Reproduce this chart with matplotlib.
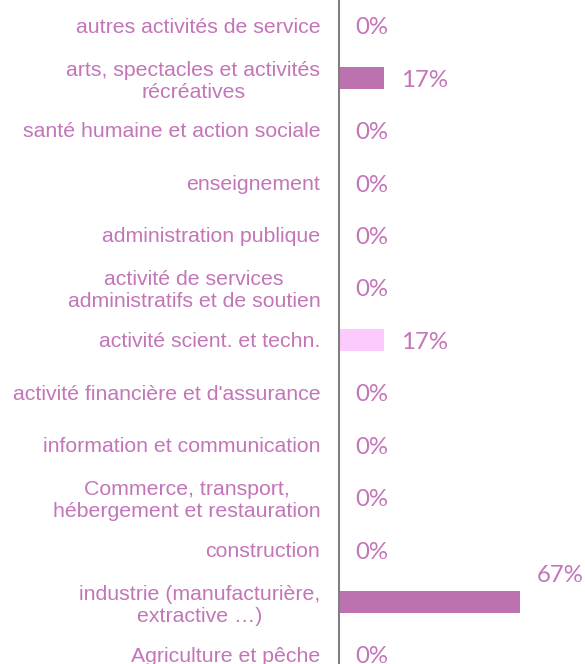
import matplotlib
matplotlib.use("Agg")
import matplotlib.pyplot as plt

categories = [
    "autres activités de service",
    "arts, spectacles et activités\nrécréatives",
    "santé humaine et action sociale",
    "enseignement",
    "administration publique",
    "activité de services\nadministratifs et de soutien",
    "activité scient. et techn.",
    "activité financière et d'assurance",
    "information et communication",
    "Commerce, transport,\nhébergement et restauration",
    "construction",
    "industrie (manufacturière,\nextractive …)",
    "Agriculture et pêche",
]
values = [0.0, 0.1667, 0.0, 0.0, 0.0, 0.0, 0.1667, 0.0, 0.0, 0.0, 0.0, 0.6667, 0.0]
value_labels = ["0%", "17%", "0%", "0%", "0%", "0%", "17%", "0%", "0%", "0%", "0%", "67%", "0%"]

dark = "#bd72b0"
light = "#fdcafd"
bar_colors = [light if c.startswith("activité scient") else dark for c in categories]
text_color = "#c375b8"

fig = plt.figure(figsize=(5.85, 6.64), dpi=100)
ax = fig.add_axes([339 / 585, 0, 1 - 339 / 585, 1])

n = len(categories)
ypos = [n - 1 - i for i in range(n)]
ax.barh(ypos, values, height=0.42, color=bar_colors)

ax.set_xlim(0, (585 - 339) / 271)
ax.set_ylim(-0.19, 12.48)
ax.set_yticks(ypos)
ax.set_yticklabels(categories, fontsize=15.3, color=text_color,
                   family=["Liberation Sans", "DejaVu Sans"], linespacing=1.2,
                   multialignment="center")
ax.tick_params(axis="y", length=0, pad=13.5)
ax.set_xticks([])
for s in ["top", "right", "bottom"]:
    ax.spines[s].set_visible(False)
ax.spines["left"].set_color("#808080")
ax.spines["left"].set_linewidth(1.5)

for y, v, lab in zip(ypos, values, value_labels):
    dy = 19 if v > 0.5 else -2
    ax.annotate(lab, xy=(v, y), xytext=(12, dy), textcoords="offset points",
                ha="left", va="center", fontsize=17.3, color=text_color,
                family=["Lato", "DejaVu Sans"], annotation_clip=False)

fig.savefig("out.png", dpi=100)
